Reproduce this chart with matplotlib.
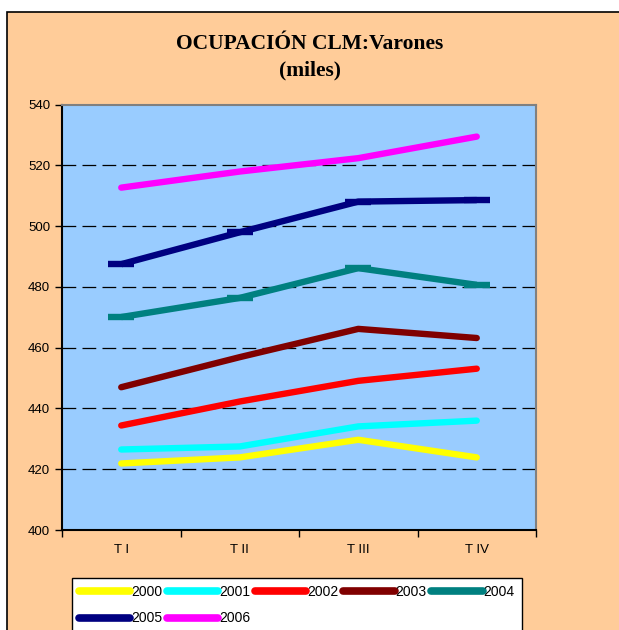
import matplotlib.pyplot as plt
from matplotlib.patches import Rectangle

# data (miles)
quarters = ['T I', 'T II', 'T III', 'T IV']
years = ['2000', '2001', '2002', '2003', '2004', '2005', '2006']
v2000 = [421.9, 423.9, 429.7, 423.9]
v2001 = [426.5, 427.5, 434.1, 436.0]
v2002 = [434.4, 442.3, 449.1, 453.1]
v2003 = [447.0, 456.9, 466.2, 463.2]
v2004 = [470.1, 476.4, 486.2, 480.7]
v2005 = [487.5, 498.0, 508.1, 508.6]
v2006 = [512.7, 518.0, 522.4, 529.5]
series = [v2000, v2001, v2002, v2003, v2004, v2005, v2006]

colors = ['#FFFF00', '#00FFFF', '#FF0000', '#800000', '#008080', '#000080', '#FF00FF']
dash_marker = [False, False, False, False, True, True, False]

W, H = 619, 630
fig = plt.figure(figsize=(W / 100, H / 100), dpi=100, facecolor='white')

# peach chart area with black border (runs off right/bottom edges)
fig.patches.append(Rectangle((7 / W, -0.05), 1.0, 1 - 12 / H + 0.05,
                             transform=fig.transFigure, facecolor='#FFCC99',
                             edgecolor='black', linewidth=1.2, zorder=-5))

ax = fig.add_axes([62 / W, (H - 530) / H, 474 / W, (530 - 104.7) / H])
ax.set_zorder(2)
ax.set_facecolor('#99CCFF')

x = [i + 0.5 for i in range(len(quarters))]
lines = []
for vals, c, dm, lab in zip(series, colors, dash_marker, years):
    if dm:
        ln, = ax.plot(x, vals, color=c, lw=4.6, marker='_', markersize=19,
                      markeredgewidth=4.6, solid_capstyle='butt', label=lab, zorder=3)
    else:
        ln, = ax.plot(x, vals, color=c, lw=4.6, solid_capstyle='round', label=lab, zorder=3)
    lines.append(ln)

ax.set_ylim(400, 540)
ax.set_yticks(range(400, 541, 20))
ax.set_xlim(0, 4)
ax.set_xticks([0, 1, 2, 3, 4])
ax.set_xticklabels([])
ax.set_xticks(x, minor=True)
ax.set_xticklabels(quarters, minor=True)
ax.tick_params(axis='x', which='minor', length=0, pad=10)
ax.tick_params(axis='both', which='major', direction='out', length=5, width=1, color='black')
for lbl in ax.get_yticklabels() + ax.get_xticklabels(minor=True):
    lbl.set_fontfamily('Liberation Sans')
    lbl.set_fontsize(9.5)

for yv in range(420, 521, 20):
    ax.axhline(yv, color='black', lw=0.9, ls=(0, (11, 5)), zorder=1)

ax.spines['left'].set_color('black')
ax.spines['bottom'].set_color('black')
ax.spines['top'].set_color('#808080')
ax.spines['right'].set_color('#808080')
for s in ax.spines.values():
    s.set_linewidth(1.5)

fig.text(0.5, 1 - 44 / H, 'OCUPACIÓN CLM:Varones', ha='center', va='center',
         fontfamily='Liberation Serif', fontweight='bold', fontsize=15.5)
fig.text(0.5, 1 - 70 / H, '(miles)', ha='center', va='center',
         fontfamily='Liberation Serif', fontweight='bold', fontsize=15.5)

# row-major layout: 2000..2004 on first row, 2005, 2006 on second
order = [0, 5, 1, 6, 2, 3, 4]
leg = fig.legend([lines[i] for i in order], [years[i] for i in order],
                 loc='upper left', bbox_to_anchor=(72 / W, 1 - 578 / H), ncol=5,
                 prop={'family': 'Liberation Sans', 'size': 10},
                 frameon=True, fancybox=False, framealpha=1, edgecolor='black',
                 handlelength=3.7, handletextpad=0.05, columnspacing=0.35,
                 borderpad=0.5, labelspacing=0.9, borderaxespad=0)
leg.set_zorder(3)
leg.get_frame().set_linewidth(1.0)
for h in leg.legend_handles:
    h.set_marker('')
    h.set_linewidth(5.5)
    h.set_solid_capstyle('round')

fig.savefig('out.png', dpi=100, facecolor=fig.get_facecolor())
